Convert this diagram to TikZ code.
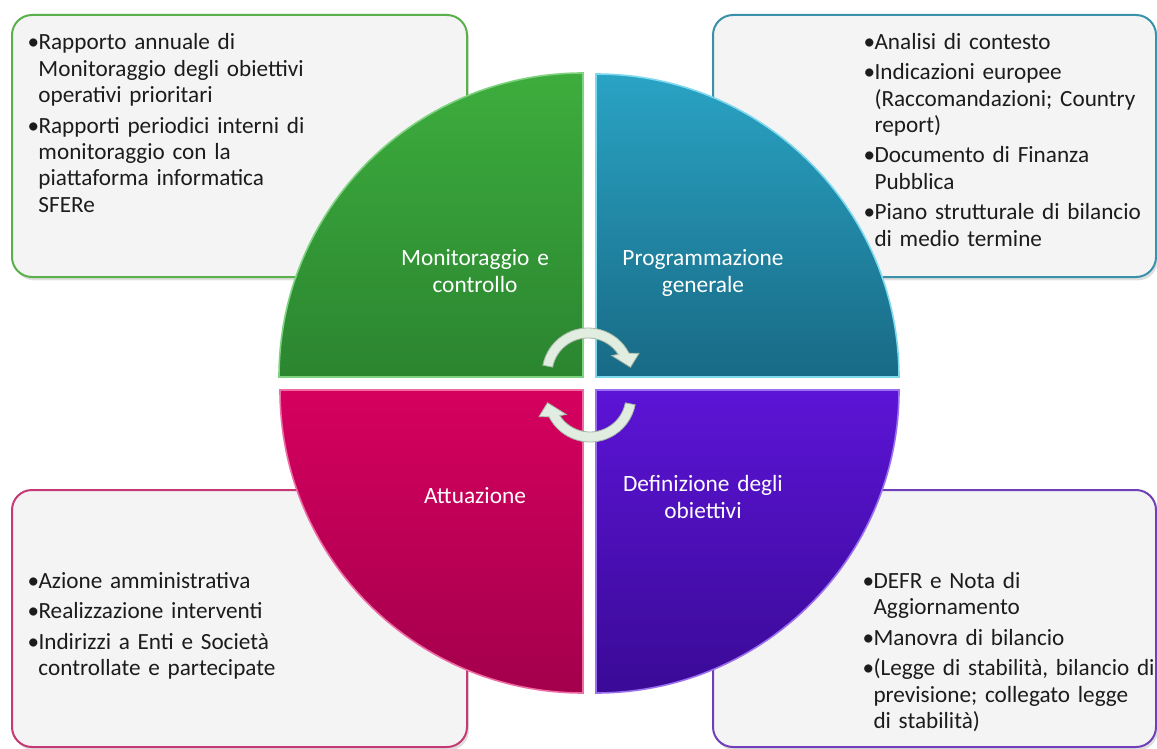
\documentclass[tikz,border=0pt]{standalone}
\usepackage{fontspec}
\setmainfont{Carlito}
\usetikzlibrary{shadows}

\definecolor{boxFill}{HTML}{F4F4F4}
\definecolor{inkColor}{HTML}{1C1C1C}
\definecolor{monTop}{HTML}{3DAD3D}
\definecolor{monBot}{HTML}{2B8530}
\definecolor{monRim}{HTML}{7FD27F}
\definecolor{monEdge}{HTML}{5AB04A}
\definecolor{progTop}{HTML}{2AA3C4}
\definecolor{progBot}{HTML}{186A85}
\definecolor{progRim}{HTML}{7ED8EE}
\definecolor{progEdge}{HTML}{3A91AA}
\definecolor{attTop}{HTML}{D6005E}
\definecolor{attBot}{HTML}{A3004C}
\definecolor{attRim}{HTML}{F06AA4}
\definecolor{attEdge}{HTML}{C53A75}
\definecolor{defTop}{HTML}{5C14D6}
\definecolor{defBot}{HTML}{3A0A96}
\definecolor{defRim}{HTML}{9A70F0}
\definecolor{defEdge}{HTML}{7040B8}
\definecolor{arrowFill}{HTML}{E2EDE2}
\definecolor{arrowEdge}{HTML}{A3B5A3}

\tikzset{every picture/.style={line width=0.75pt}}
\tikzset{
  infobox/.style={fill=boxFill, line width=1.5pt, rounded corners=15pt,
    drop shadow={shadow xshift=1.5pt, shadow yshift=-2.5pt, opacity=0.25}},
  quarter/.style={line width=1.2pt},
  bullettext/.style={anchor=base west, inner sep=0pt, text width=#1, align=left,
    text=inkColor, font=\fontsize{17.4}{19.8}\selectfont},
  quadlabel/.style={anchor=base, inner sep=0pt, text width=165pt, align=center,
    text=white, font=\fontsize{17.5}{20.25}\selectfont},
  cyclearrow/.style={fill=arrowFill, draw=arrowEdge, line width=0.6pt}
}

\newcommand\bitem[1]{\par\hangindent=8.25pt\hangafter=1\noindent\makebox[8.25pt][l]{\textbullet}#1\par}

\begin{document}
\begin{tikzpicture}[x=0.75pt,y=0.75pt,yscale=-1,xscale=1]
\useasboundingbox (0,0) rectangle (1157,749);

%Shape: Rounded Rect [monitoraggio]
\draw[infobox, draw=monEdge] (12,15) rectangle (467,277);
%Shape: Rounded Rect [programmazione]
\draw[infobox, draw=progEdge] (713,15) rectangle (1156,277);
%Shape: Rounded Rect [attuazione]
\draw[infobox, draw=attEdge] (12,490) rectangle (467,747);
%Shape: Rounded Rect [definizione]
\draw[infobox, draw=defEdge] (713,490) rectangle (1156,747);

%Shape: Quarter Circle
\shade[quarter, top color=monTop, bottom color=monBot, draw=monRim] (583,377) -- (279,377) arc[start angle=180, end angle=270, radius=304] -- cycle;
%Shape: Quarter Circle
\shade[quarter, top color=progTop, bottom color=progBot, draw=progRim] (596,377) -- (596,74) arc[start angle=270, end angle=360, radius=303] -- cycle;
%Shape: Quarter Circle
\shade[quarter, top color=attTop, bottom color=attBot, draw=attRim] (583,390) -- (583,693) arc[start angle=90, end angle=180, radius=303] -- cycle;
%Shape: Quarter Circle
\shade[quarter, top color=defTop, bottom color=defBot, draw=defRim] (596,390) -- (899,390) arc[start angle=0, end angle=90, radius=303] -- cycle;

%Curved Arrow
\begin{scope}[shift={(588,374)}]
  \draw[cyclearrow] (-169:36) arc[start angle=-169, end angle=-33, radius=36] -- (-38:30) -- (-9:43) -- (-22:55) -- (-27:46) arc[start angle=-27, end angle=-169, radius=46] -- cycle;
\end{scope}
%Curved Arrow
\begin{scope}[shift={(590,396)}, rotate=180]
  \draw[cyclearrow] (-169:36) arc[start angle=-169, end angle=-33, radius=36] -- (-38:30) -- (-9:43) -- (-22:55) -- (-27:46) arc[start angle=-27, end angle=-169, radius=46] -- cycle;
\end{scope}

% Text Node
\node[quadlabel] (labMon) at (475,265) {Monitoraggio e\\controllo};
% Text Node
\node[quadlabel] (labProg) at (703,265) {Programmazione\\generale};
% Text Node
\node[quadlabel] (labAtt) at (475,503) {Attuazione};
% Text Node
\node[quadlabel] (labDef) at (703,491) {Definizione degli\\obiettivi};

% Text Node
\node[bullettext=247.5pt] (txtMon) at (27,19.5) {\parskip=3pt
  \bitem{Rapporto annuale di\newline Monitoraggio degli obiettivi\newline operativi prioritari}
  \bitem{Rapporti periodici interni di\newline monitoraggio con la\newline piattaforma informatica\newline SFERe}};
% Text Node
\node[bullettext=240pt] (txtProg) at (863,19) {\parskip=3pt
  \bitem{Analisi di contesto}
  \bitem{Indicazioni europee\newline (Raccomandazioni; Country\newline report)}
  \bitem{Documento di Finanza\newline Pubblica}
  \bitem{Piano strutturale di bilancio\newline di medio termine}};
% Text Node
\node[bullettext=247.5pt] (txtAtt) at (27,558) {\parskip=3pt
  \bitem{Azione amministrativa}
  \bitem{Realizzazione interventi}
  \bitem{Indirizzi a Enti e Società\newline controllate e partecipate}};
% Text Node
\node[bullettext=240pt] (txtDef) at (862,558) {\parskip=3pt
  \bitem{DEFR e Nota di\newline Aggiornamento}
  \bitem{Manovra di bilancio}
  \bitem{(Legge di stabilità, bilancio di\newline previsione; collegato legge\newline di stabilità)}};

\end{tikzpicture}
\end{document}
